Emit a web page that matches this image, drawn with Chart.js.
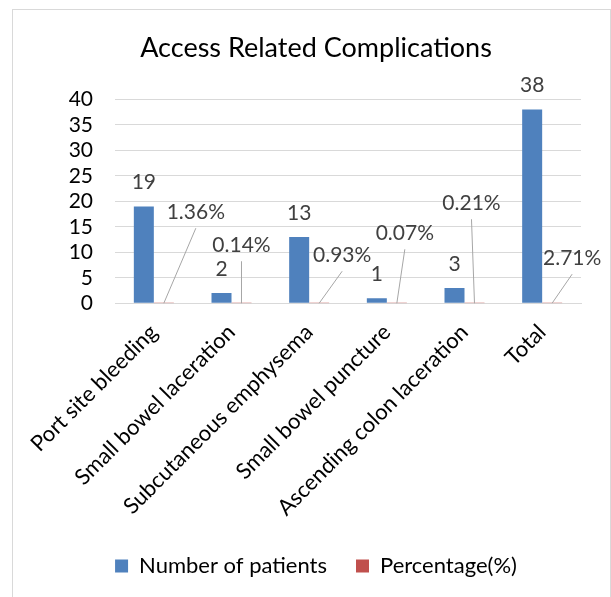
<!DOCTYPE html>
<html>
<head>
<meta charset="utf-8">
<script src="https://cdn.jsdelivr.net/npm/chart.js@4.4.1/dist/chart.umd.min.js"></script>
<style>
  html, body { margin: 0; padding: 0; background: #fff; }
  #frame { position: absolute; left: 12px; top: 9px; width: 599px; height: 620px; border: 1px solid #d9d9d9; box-sizing: border-box; }
  #wrap { position: absolute; left: 0; top: 0; width: 611px; height: 597px; }
</style>
</head>
<body>
<div id="frame"></div>
<div id="wrap"><canvas id="myChart" width="611" height="597"></canvas></div>
<script>
// data
const categories = ["Port site bleeding", "Small bowel laceration", "Subcutaneous emphysema",
  "Small bowel puncture", "Ascending colon laceration", "Total"];
const patients = [19, 2, 13, 1, 3, 38];
const percentage = [0.0136, 0.0014, 0.0093, 0.0007, 0.0021, 0.0271]; // shown as %
const yTicks = [0, 5, 10, 15, 20, 25, 30, 35, 40];

// where the percentage labels were dragged to (px from the red bar top)
const pctLabelShift = [[32, -91], [0, -58], [23, -48], [8, -70], [-3, -100], [20, -45]];

const FONT = "Lato, 'Open Sans', sans-serif";

const barLabels = {
  id: "barLabels",
  afterDatasetsDraw(chart) {
    const ctx = chart.ctx;
    const blue = chart.getDatasetMeta(0).data;
    const red = chart.getDatasetMeta(1).data;
    ctx.save();
    ctx.font = "21px " + FONT;
    ctx.fillStyle = "#404040";
    ctx.textAlign = "center";
    ctx.textBaseline = "middle";
    blue.forEach((bar, i) => ctx.fillText(String(patients[i]), bar.x, bar.y - 24));
    ctx.strokeStyle = "#a6a6a6";
    ctx.lineWidth = 1;
    red.forEach((bar, i) => {
      const lx = bar.x + pctLabelShift[i][0];
      const ly = bar.y + pctLabelShift[i][1];
      ctx.beginPath();
      ctx.moveTo(lx, ly + 16);
      ctx.lineTo(bar.x, bar.y);
      ctx.stroke();
      ctx.fillText((percentage[i] * 100).toFixed(2) + "%", lx, ly);
    });
    ctx.restore();
  }
};

var ctx = document.getElementById("myChart").getContext("2d");
var chart = new Chart(ctx, {
  type: "bar",
  data: {
    labels: categories,
    datasets: [
      {
        label: "Number of patients",
        backgroundColor: "#4F81BD",
        data: patients
      },
      {
        label: "Percentage(%)",
        backgroundColor: "#C0504D",
        inflateAmount: 0,
        data: percentage
      }
    ]
  },
  options: {
    responsive: false,
    devicePixelRatio: 1,
    animation: false,
    layout: { padding: { left: 51, right: 30, top: 0, bottom: 10 } },
    datasets: { bar: { categoryPercentage: 0.515, barPercentage: 1 } },
    plugins: {
      title: {
        display: true,
        text: "Access Related Complications",
        color: "#000",
        font: { family: FONT, size: 27, weight: "normal" },
        padding: { top: 32, bottom: 35 }
      },
      legend: {
        position: "bottom",
        labels: {
          color: "#000",
          font: { family: FONT, size: 22 },
          boxWidth: 13,
          boxHeight: 13,
          padding: 29
        }
      },
      tooltip: { enabled: false }
    },
    scales: {
      x: {
        grid: { display: false },
        border: { color: "#d9d9d9" },
        afterFit: (s) => { s.height -= 3; },
        ticks: {
          color: "#000",
          font: { family: FONT, size: 22 },
          minRotation: 45,
          maxRotation: 45,
          padding: 8
        }
      },
      y: {
        min: 0,
        max: 40,
        afterBuildTicks: (s) => { s.ticks = yTicks.map(v => ({ value: v })); },
        afterFit: (s) => { s.width = 64; },
        grid: { color: "#d9d9d9", drawTicks: false },
        border: { display: false },
        ticks: {
          color: "#000",
          font: { family: FONT, size: 21 },
          padding: 22,
          autoSkip: false
        }
      }
    }
  },
  plugins: [barLabels]
});
</script>
</body>
</html>
